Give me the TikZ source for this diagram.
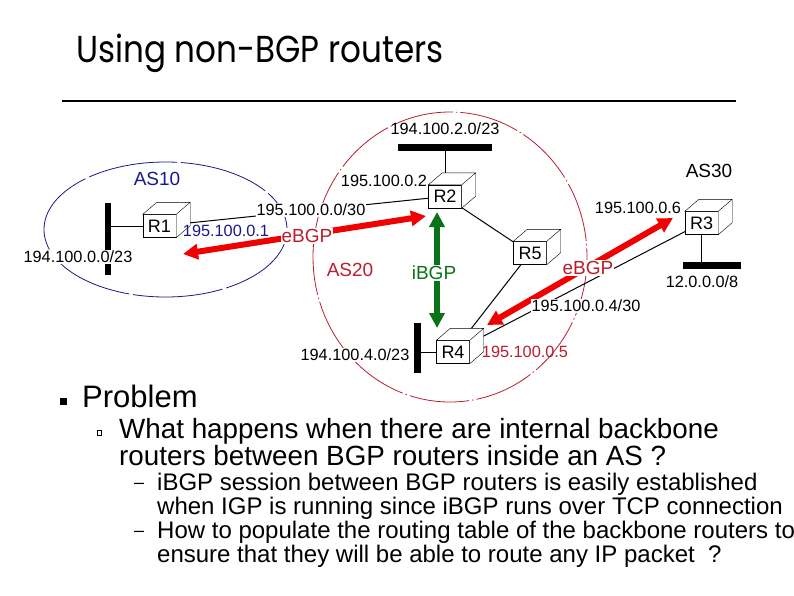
\documentclass[tikz,border=0pt]{standalone}
\usepackage{fontspec}
\setmainfont{Liberation Sans}
\newfontfamily\titlefont[FakeStretch=0.87]{Poppins}
\usetikzlibrary{arrows.meta}
\definecolor{asblue}{RGB}{25,25,135}
\definecolor{asred}{RGB}{185,30,45}
\definecolor{bgpred}{RGB}{240,0,0}
\definecolor{bgpgreen}{RGB}{10,115,25}
\pgfdeclarelayer{back}
\pgfsetlayers{back,main}
\tikzset{
	router/.style={draw, fill=white, minimum width=33pt, minimum height=23pt, inner sep=0pt, font=\fontsize{18}{18}\selectfont},
	lan/.style={fill=black, inner sep=0pt},
	iplbl/.style={inner sep=1pt, font=\fontsize{16.3}{17}\selectfont},
	bgplbl/.style={fill=white, inner sep=1pt, font=\fontsize{19}{19}\selectfont},
	ebgp/.style={bgpred, line width=6pt, {Triangle[length=15pt,width=15pt]}-{Triangle[length=15pt,width=15pt]}},
	ibgp/.style={bgpgreen, line width=6pt, {Triangle[length=15pt,width=15pt]}-{Triangle[length=15pt,width=15pt]}},
	txt/.style={anchor=base west, inner sep=0pt},
}
\begin{document}
\begin{tikzpicture}[x=1pt, y=-1pt]
	\useasboundingbox (0,0) rectangle (794,595);
	% title
	\node[txt, font=\titlefont\fontsize{37.5}{38}\selectfont] (title) at (76,62) {Using non-BGP routers};
	\draw[line width=2pt] (62,101) -- (736,101);

	% routers
	\node[router] (r1) at (159.5,226) {R1};
	\node[router] (r2) at (445,196.5) {R2};
	\node[router] (r5) at (530,253) {R5};
	\node[router] (r3) at (701.5,223) {R3};
	\node[router] (r4) at (453,352) {R4};
	\foreach \r in {r1,r2,r3,r4,r5}
		\draw[fill=white] (\r.north west) -- ++(14,-12) -- ([shift={(14,-12)}]\r.north east)
			-- ([shift={(14,-12)}]\r.south east) -- (\r.south east) -- (\r.north east) -- cycle
			(\r.north east) -- ++(14,-12);

	% networks
	\node[lan, minimum width=6pt, minimum height=72pt] (lan1) at (108,239) {};
	\node[lan, minimum width=94pt, minimum height=7pt] (lan2) at (445,147) {};
	\node[lan, minimum width=58pt, minimum height=7pt] (lan3) at (712,265) {};
	\node[lan, minimum width=7pt, minimum height=50pt] (lan4) at (417,348) {};

	\begin{pgfonlayer}{back}
		\draw[asblue, line width=0.8pt, dash pattern=on 90pt off 4pt] (165.5,229.5) ellipse [x radius=121.5, y radius=67.5];
		\draw[asred, line width=0.8pt, dash pattern=on 60pt off 3pt on 1.5pt off 3pt] (450,257) ellipse [x radius=137, y radius=145];
		\draw[line width=1pt] (r1.center) -- (r1.center -| lan1.center);
		\draw[line width=1pt] (lan2.center) -- (r2.center);
		\draw[line width=1pt] (r3.center) -- (r3.center |- lan3.center);
		\draw[line width=1pt] (r4.center) -- (r4.center -| lan4.center);
		\draw[line width=1pt] (r1.center) -- (r2.center);
		\draw[line width=1pt] (r2.center) -- (r5.center);
		\draw[line width=1pt] (r5.center) -- (r4.center);
		\draw[line width=1pt] (r4.center) -- (r3.center);
	\end{pgfonlayer}

	% sessions
	\coordinate (e1a) at (183,254);
	\coordinate (e1b) at (426,216);
	\coordinate (e2a) at (487,325);
	\coordinate (e2b) at (673,218);
	\coordinate (i1) at (437,212);
	\coordinate (i2) at (437,328);
	\draw[ebgp] (e1a) -- (e1b);
	\draw[ebgp] (e2a) -- (e2b);
	\draw[ibgp] (i1) -- (i2);
	\node[bgplbl, text=asred] (eb1) at (307,236) {eBGP};
	\node[bgplbl, text=asred] (eb2) at (588,268) {eBGP};
	\node[bgplbl, text=bgpgreen] (ib) at (434,273) {iBGP};

	% labels
	\node[bgplbl, fill=none, text=asblue] (as10) at (157,179) {AS10};
	\node[bgplbl, fill=none, text=asred] (as20) at (350,270) {AS20};
	\node[bgplbl, fill=none] (as30) at (709,171) {AS30};
	\node[iplbl, fill=white] (ip1) at (311,210) {195.100.0.0/30};
	\node[iplbl, text=asblue] (ip2) at (226,231) {195.100.0.1};
	\node[iplbl] (ip3) at (384,181) {195.100.0.2};
	\node[iplbl] (ip4) at (638,208) {195.100.0.6};
	\node[iplbl, text=asred] (ip5) at (525,352) {195.100.0.5};
	\node[iplbl, fill=white] (ip6) at (586,306) {195.100.0.4/30};
	\node[iplbl] (ip7) at (702,282) {12.0.0.0/8};
	\node[iplbl] (ip8) at (445,129) {194.100.2.0/23};
	\node[iplbl, fill=white] (ip9) at (78,257) {194.100.0.0/23};
	\node[iplbl, fill=white] (ip10) at (355,355) {194.100.4.0/23};

	% text
	\node[fill=black, minimum size=7pt, inner sep=0pt] (bul1) at (63.5,401) {};
	\node[draw, line width=0.6pt, minimum width=4pt, minimum height=5pt, inner sep=0pt] (bul2) at (99.5,433) {};
	\node[txt, font=\fontsize{31}{31}\selectfont] (prob) at (82,407) {Problem};
	\node[txt, font=\fontsize{27.8}{28}\selectfont] (q1) at (119,438) {What happens when there are internal backbone};
	\node[txt, font=\fontsize{27.8}{28}\selectfont] (q2) at (119,465) {routers between BGP routers inside an AS ?};
	\node[txt, font=\fontsize{18}{18}\selectfont] (d1) at (134,488) {–};
	\node[txt, font=\fontsize{24}{24}\selectfont] (s1) at (157,490) {iBGP session between BGP routers is easily established};
	\node[txt, font=\fontsize{24}{24}\selectfont] (s2) at (157,514) {when IGP is running since iBGP runs over TCP connection};
	\node[txt, font=\fontsize{18}{18}\selectfont] (d2) at (134,536) {–};
	\node[txt, font=\fontsize{24}{24}\selectfont] (s3) at (157,538) {How to populate the routing table of the backbone routers to};
	\node[txt, font=\fontsize{24}{24}\selectfont] (s4) at (157,562) {ensure that they will be able to route any IP packet\ \ ?};
\end{tikzpicture}
\end{document}
